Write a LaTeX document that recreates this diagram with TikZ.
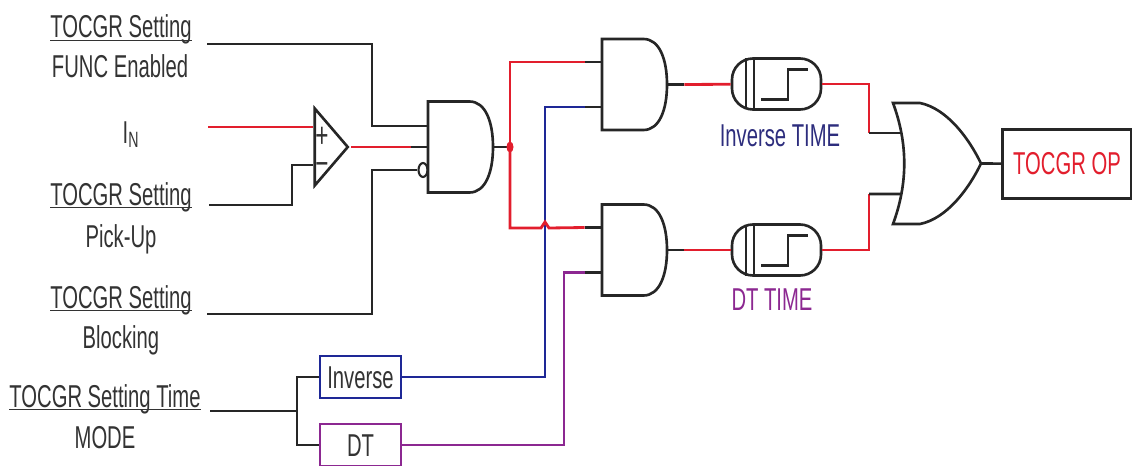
\documentclass[tikz,border=0pt]{standalone}
\usepackage{fontspec}
\setmainfont[FakeStretch=0.64]{Liberation Sans}
\usepackage{tikz}
\usetikzlibrary{shapes.geometric}
\definecolor{wirered}{RGB}{226,30,45}
\definecolor{wireblue}{RGB}{30,40,150}
\definecolor{wirepurple}{RGB}{140,40,145}
\definecolor{textblue}{RGB}{45,45,125}
\newcommand{\ulabel}[1]{\underline{\smash{#1}}}
\tikzset{
    x=0.02cm,
    y=-0.02cm,
    wire/.style={line width=1.5pt, black!85},
    redwire/.style={line width=1.6pt, wirered},
    bluewire/.style={line width=1.5pt, wireblue},
    purplewire/.style={line width=1.5pt, wirepurple},
    txt/.style={font=\fontsize{18}{20}\selectfont, text=black!80, inner sep=0pt, anchor=base},
    andgate/.style={
            inner sep=0pt,
            minimum width=1.3cm, % the outline itself is drawn over this empty node
            minimum height=1.82cm,
        },
    orgate/.style={
            inner sep=0pt,
            minimum width=1.76cm,
            minimum height=2.42cm,
        },
    timer/.style={
            draw,
            line width=1.5pt,
            black!85,
            rounded corners=0.42cm,
            minimum width=1.78cm,
            minimum height=1.02cm,
        },
    modebox/.style={
            draw,
            line width=1.5pt,
            minimum width=1.62cm,
            minimum height=0.84cm,
            inner sep=0pt,
        },
}

\begin{document}
\begin{tikzpicture}
    \useasboundingbox (0,0) rectangle (1132,466);

    % label nodes
    \node[txt] (func) at (121,38) {\ulabel{TOCGR Setting}};
    \node[txt] (func2) at (120,78) {FUNC Enabled};
    \node[txt] (in) at (131,143) {I\textsubscript{N}};
    \node[txt] (pick) at (121,205) {\ulabel{TOCGR Setting}};
    \node[txt] (pick2) at (121,247) {Pick-Up};
    \node[txt] (block) at (121,308) {\ulabel{TOCGR Setting}};
    \node[txt] (block2) at (121,348) {Blocking};
    \node[txt] (mode) at (105,407) {\ulabel{TOCGR Setting Time}};
    \node[txt] (mode2) at (105,448) {MODE};

    % free ends of the inputs
    \coordinate (funcend) at (207,44);
    \coordinate (inend) at (208,127);
    \coordinate (pickend) at (209,205);
    \coordinate (blockend) at (207,314);
    \coordinate (modeend) at (210,411);

    % gates
    \node[isosceles triangle, isosceles triangle stretches, draw, line width=1.5pt, black!85, minimum width=1.54cm, minimum height=0.66cm, inner sep=0pt] (comp) at (329,147) {};
    \node[txt, font=\fontsize{20}{20}\selectfont] (plus) at (322,148) {+};
    \node[txt, font=\fontsize{20}{20}\selectfont] (minus) at (322,175) {−};
    \node[andgate] (and1) at (460.5,147) {};
    \node[andgate] (and2) at (634.5,84.5) {};
    \node[andgate] (and3) at (634.5,250) {};
    \node[orgate] (or1) at (937,163.5) {};
    \node[draw, ellipse, line width=1.2pt, black!85, inner sep=0pt, minimum width=0.18cm, minimum height=0.28cm] (bub) at (423,170) {};
    \node[timer] (t1) at (776.5,84) {};
    \node[timer] (t2) at (776.5,250) {};
    \node[txt, text=textblue] (t1name) at (780,146) {Inverse TIME};
    \node[txt, text=wirepurple] (t2name) at (772,310) {DT TIME};
    \node[modebox, draw=wireblue] (inv) at (360.5,377) {};
    \node[txt] (invname) at (360.5,388) {Inverse};
    \node[modebox, draw=wirepurple] (dt) at (360.5,445) {};
    \node[txt] (dtname) at (360.5,456) {DT};
    \node[draw, line width=1.5pt, black!85, minimum width=2.58cm, minimum height=1.38cm, inner sep=0pt] (op) at (1067,164) {};
    \node[txt, text=wirered] (opname) at (1067,174) {TOCGR OP};

    % gate outlines
    \foreach \g in {and1,and2,and3} {
        \draw[wire, shift={(\g.center)}] (-32.5,-45.5) -- (9,-45.5) .. controls (25,-45.5) and (32.5,-25) .. (32.5,0)
            .. controls (32.5,25) and (25,45.5) .. (9,45.5) -- (-32.5,45.5) -- cycle;
    }
    \draw[wire, shift={(or1.center)}] (-44,-60.5) -- (-17,-60.5) .. controls (10,-55) and (32,-25) .. (44,0)
        .. controls (32,25) and (10,55) .. (-17,60.5) -- (-44,60.5) .. controls (-29,20) and (-29,-20) .. (-44,-60.5) -- cycle;

    % timer symbols
    \foreach \t in {t1,t2} {
        \draw[wire, shift={(\t.center)}] (-30.5,-25.5) -- (-30.5,25.5);
        \draw[wire, shift={(\t.center)}] (-22.5,-25.5) -- (-22.5,25.5);
        \draw[wire, shift={(\t.center)}] (-15.5,15.5) -- (11.5,15.5) -- (11.5,-14.5) -- (31.5,-14.5);
    }

    % gate inputs with their black stubs
    \foreach \g in {and2,and3} {
        \coordinate (\g a) at ([shift={(-17,-22.5)}]\g.west);
        \coordinate (\g b) at ([shift={(-17,22.5)}]\g.west);
        \draw[wire] (\g a) -- ++(17,0);
        \draw[wire] (\g b) -- ++(17,0);
    }

    % edges
    \draw[wire] (funcend) -- (372,44) |- ([yshift=0.42cm]and1.west);
    \draw[redwire] (inend) -- (comp.west |- inend);
    \draw[wire] (pickend) -- (292,205) |- (comp.west |- 0,165);
    \draw[redwire] (comp.apex) -- ([xshift=-0.34cm]and1.west);
    \draw[wire] ([xshift=-0.34cm]and1.west) -- (and1.west);
    \draw[wire] (blockend) -- (372,314) |- (bub.west);
    \draw[wire] (and1.east) -- (510,147);
    \draw[redwire] (510,147) |- (and2a);
    \draw[bluewire] (inv) -- (545,377) |- (and2b);
    \draw[redwire] (510,147) |- (541,228) -- (545,222) -- (549,228) -- (and3a);
    \draw[purplewire] (dt) -- (564,445) |- (and3b);
    \fill[wirered] (510,147) ellipse (3.5 and 5.5);

    \draw[wire] (modeend) -- (297,411);
    \draw[wire] (inv.west) -- (297,377) |- (dt.west);

    \draw[wire] (and2.east) -- ++(17,0);
    \draw[redwire] ([xshift=0.34cm]and2.east) -- (t1);
    \draw[wire] (and3.east) -- ++(17,0);
    \draw[redwire] ([xshift=0.34cm]and3.east) -- (t2);
    \draw[redwire] (t1) -- (869,84) -- (869,133);
    \draw[wire] (869,133) -- ([shift={(9,-30.5)}]or1.west);
    \draw[redwire] (t2) -- (869,250) -- (869,194);
    \draw[wire] (869,194) -- ([shift={(9,30.5)}]or1.west);
    \draw[wire] (or1.east) -- (op);
\end{tikzpicture}
\end{document}
